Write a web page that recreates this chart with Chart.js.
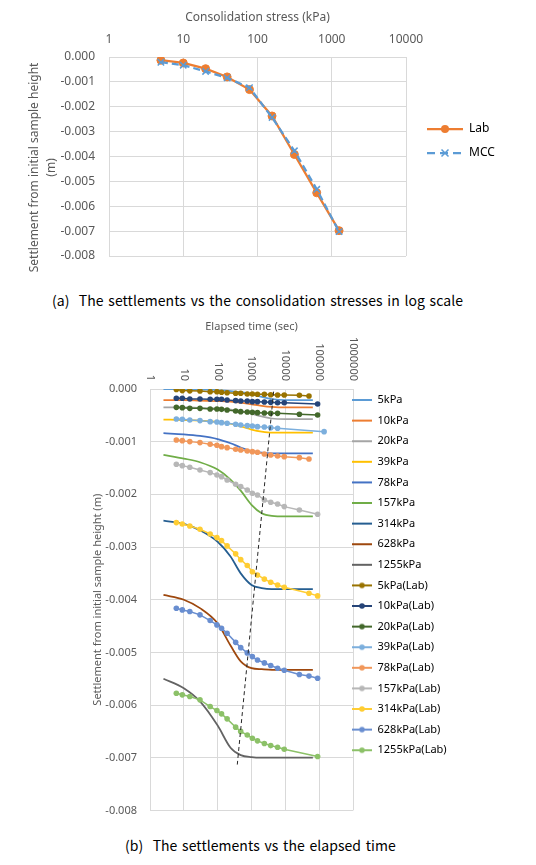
<!DOCTYPE html>
<html>
<head>
<meta charset="utf-8">
<script src="https://cdn.jsdelivr.net/npm/chart.js"></script>
<style>
  body { margin: 0; background: #fff; width: 536px; height: 865px; position: relative; overflow: hidden; }
  #boxA { position: absolute; left: 0; top: 0; width: 536px; height: 282px; }
  #boxB { position: absolute; left: 0; top: 310px; width: 536px; height: 520px; }
  .cap { position: absolute; font-family: "Noto Sans CJK KR", sans-serif; font-size: 14px; line-height: 20px; color: #000; white-space: pre; letter-spacing: 0.05px; word-spacing: 1.5px; }
  #capA { left: 52px; top: 290px; }
  #capB { left: 125px; top: 835px; }
</style>
</head>
<body>
<div id="boxA"><canvas id="chartA"></canvas></div>
<div class="cap" id="capA">(a)  The settlements vs the consolidation stresses in log scale</div>
<div id="boxB"><canvas id="chartB"></canvas></div>
<div class="cap" id="capB">(b)  The settlements vs the elapsed time</div>
<script>
// (a) settlement vs consolidation stress
var stressKpa = [5, 10, 20, 39, 78, 157, 314, 628, 1255];
var labSettle = [-0.00013, -0.00024, -0.00047, -0.00080, -0.00131, -0.00237, -0.00392, -0.00546, -0.00698];
var mccSettle = [-0.00021, -0.00033, -0.00058, -0.00084, -0.00123, -0.00243, -0.00377, -0.00532, -0.00702];
var stressTicks = [1, 10, 100, 1000, 10000];

// (b) settlement vs elapsed time
var timeTicks = [1, 10, 100, 1000, 10000, 100000, 1000000];
var modelNames = ['5kPa', '10kPa', '20kPa', '39kPa', '78kPa', '157kPa', '314kPa', '628kPa', '1255kPa'];
var modelColors = ['#5B9BD5', '#ED7D31', '#A5A5A5', '#FFC000', '#4472C4', '#70AD47', '#255E91', '#9E480E', '#636363'];
var modelTime = [2.5, 10, 30, 100, 240, 480, 1000, 2000, 4000, 10000, 65000];
var model5 = [0, 0, -0.00001, -0.00002, -0.00004, -0.00006, -0.00010, -0.00015, -0.00019, -0.00021, -0.00021];
var model10 = [-0.00021, -0.00021, -0.00022, -0.00023, -0.00024, -0.00026, -0.00029, -0.00032, -0.00034, -0.00035, -0.00035];
var model20 = [-0.00035, -0.00035, -0.00036, -0.00037, -0.00039, -0.00042, -0.00047, -0.00052, -0.00056, -0.00057, -0.00057];
var model39 = [-0.00058, -0.00059, -0.00060, -0.00062, -0.00066, -0.00071, -0.00077, -0.00081, -0.00083, -0.00083, -0.00083];
var model78 = [-0.00084, -0.00086, -0.00089, -0.00095, -0.00103, -0.00111, -0.00118, -0.00121, -0.00122, -0.00122, -0.00122];
var model157 = [-0.00125, -0.00132, -0.00139, -0.00153, -0.00172, -0.00193, -0.00220, -0.00236, -0.00241, -0.00242, -0.00242];
var model314 = [-0.00250, -0.00256, -0.00268, -0.00290, -0.00318, -0.00350, -0.00372, -0.00378, -0.00380, -0.00380, -0.00380];
var model628 = [-0.00391, -0.00400, -0.00416, -0.00445, -0.00487, -0.00517, -0.00530, -0.00532, -0.00533, -0.00533, -0.00533];
var model1255 = [-0.00550, -0.00568, -0.00593, -0.00639, -0.00681, -0.00695, -0.00699, -0.00700, -0.00700, -0.00700, -0.00700];

var labNames = ['5kPa(Lab)', '10kPa(Lab)', '20kPa(Lab)', '39kPa(Lab)', '78kPa(Lab)', '157kPa(Lab)', '314kPa(Lab)', '628kPa(Lab)', '1255kPa(Lab)'];
var labColors = ['#997300', '#264478', '#43682B', '#7CAFDD', '#F1975A', '#B7B7B7', '#FFCD33', '#698ED0', '#8CC168'];
var labTime = [6, 9, 15, 30, 60, 95, 130, 190, 340, 480, 750, 1060, 1500, 2400, 3700, 5900, 9300, 26000, 50000, 90000, 140000];
var lab5 = [-0.00001, -0.00003, -0.000035, -0.000038, -0.00005, -0.00005, -0.000063, -0.00007, -0.000082, -0.000082, -0.000095, -0.000095, -0.0001, -0.0001, -0.000108, -0.000114, -0.000114, -0.00012, -0.000133, null, null];
var lab10 = [-0.000177, -0.000177, -0.00019, -0.00019, -0.000196, -0.000196, -0.000196, -0.000209, -0.000221, -0.000228, -0.000228, -0.00024, -0.00024, -0.000247, -0.000253, -0.00026, -0.00026, null, null, -0.000285, null];
var lab20 = [-0.000348, -0.000354, -0.000367, -0.000367, -0.00038, -0.00038, -0.000386, -0.0004, -0.000417, -0.00043, -0.000436, -0.000443, -0.000449, -0.000455, -0.000462, -0.000462, null, -0.00048, null, -0.000493, null];
var lab39 = [-0.000569, -0.000575, -0.000588, -0.0006, -0.00062, -0.000626, -0.000639, -0.000651, -0.00067, -0.000683, -0.000696, -0.000702, -0.000715, -0.000721, -0.000734, -0.000746, null, null, null, null, -0.00081];
var lab78 = [-0.000968, -0.000981, -0.000999, -0.001018, -0.00105, -0.001069, -0.001094, -0.001113, -0.001145, -0.001157, -0.001176, -0.001189, -0.001202, -0.001233, -0.001252, -0.001271, -0.001284, -0.001303, -0.001328, null, null];
var lab157 = [-0.001429, -0.001455, -0.001486, -0.001537, -0.001587, -0.001632, -0.001664, -0.001727, -0.001809, -0.001853, -0.001916, -0.00198, -0.002011, -0.002106, -0.002151, -0.002182, -0.002233, -0.002296, null, -0.002378, null];
var lab314 = [-0.002536, -0.002562, -0.0026, -0.002663, -0.002752, -0.002821, -0.002878, -0.002979, -0.00313, -0.00324, -0.00335, -0.00347, -0.00353, -0.00361, -0.00367, -0.00372, -0.003765, null, -0.003877, -0.003928, null];
var lab628 = [-0.004162, -0.004194, -0.004225, -0.004288, -0.004396, -0.004478, -0.004541, -0.004636, -0.00481, -0.00491, -0.00501, -0.00508, -0.005145, -0.0052, -0.00525, -0.0053, -0.00534, -0.00542, -0.00545, -0.00549, null];
var lab1255 = [-0.005775, -0.005806, -0.005838, -0.005901, -0.006028, -0.006104, -0.006167, -0.006262, -0.00642, -0.0065, -0.00657, -0.00663, -0.00668, -0.00673, -0.00677, -0.0068, -0.00684, null, null, -0.006977, null];

// dashed guide line across the curves
var guideTime = [4500, 380];
var guideSettle = [-0.00005, -0.00713];

var modelSettle = [model5, model10, model20, model39, model78, model157, model314, model628, model1255];
var labSettleT = [lab5, lab10, lab20, lab39, lab78, lab157, lab314, lab628, lab1255];

Chart.defaults.font.family = '"Noto Sans", sans-serif';
Chart.defaults.color = '#595959';

function pts(xs, ys) {
    var out = [];
    for (var i = 0; i < xs.length; i++) {
        if (ys[i] !== null) out.push({x: xs[i], y: ys[i]});
    }
    return out;
}

// small legend icons: line with optional marker
function icon(w, h, color, lw, dash, marker, r) {
    var c = document.createElement('canvas');
    c.width = w; c.height = h;
    var g = c.getContext('2d');
    g.strokeStyle = color;
    g.fillStyle = color;
    g.lineWidth = lw;
    g.setLineDash(dash);
    g.beginPath();
    g.moveTo(0, h / 2);
    g.lineTo(w, h / 2);
    g.stroke();
    g.setLineDash([]);
    if (marker === 'circle') {
        g.beginPath();
        g.arc(w / 2, h / 2, r, 0, Math.PI * 2);
        g.fill();
    } else if (marker === 'x') {
        g.lineWidth = 1.5;
        g.beginPath();
        g.moveTo(w / 2 - r, h / 2 - r); g.lineTo(w / 2 + r, h / 2 + r);
        g.moveTo(w / 2 + r, h / 2 - r); g.lineTo(w / 2 - r, h / 2 + r);
        g.stroke();
    }
    return c;
}

// legend has a fixed width for layout; move it and let its text run to the canvas edge
var shiftLegend = {
    id: 'shiftLegend',
    afterLayout: function(chart, args, opts) {
        var lg = chart.legend;
        lg.left += opts.dx;
        lg.top += opts.dy;
        lg.bottom += opts.dy;
        lg.right = chart.width;
        lg.width = lg.right - lg.left;
    }
};

var timeLabels = {
    id: 'timeLabels',
    afterDraw: function(chart) {
        var sx = chart.scales.x;
        var ctx = chart.ctx;
        ctx.save();
        ctx.font = '11px "Noto Sans"';
        ctx.fillStyle = '#595959';
        ctx.textAlign = 'right';
        ctx.textBaseline = 'middle';
        timeTicks.forEach(function(v) {
            ctx.save();
            ctx.translate(sx.getPixelForValue(v), chart.chartArea.top - 8);
            ctx.rotate(Math.PI / 2);
            ctx.fillText(String(v), 0, 0);
            ctx.restore();
        });
        ctx.restore();
    }
};

var gridColor = '#D9D9D9';

// ---------- chart (a) ----------
var iconsA = [
    icon(36, 12, '#ED7D31', 2.25, [], 'circle', 4),
    icon(36, 12, '#5B9BD5', 2.25, [8, 5], 'x', 3.5)
];

new Chart(document.getElementById('chartA'), {
    type: 'line',
    data: {
        datasets: [{
            label: 'Lab',
            data: pts(stressKpa, labSettle),
            borderColor: '#ED7D31',
            backgroundColor: '#ED7D31',
            borderWidth: 2.25,
            pointRadius: 4,
            pointBorderWidth: 1,
            order: 1
        }, {
            label: 'MCC',
            data: pts(stressKpa, mccSettle),
            borderColor: '#5B9BD5',
            backgroundColor: '#5B9BD5',
            borderDash: [7, 4],
            borderWidth: 2.25,
            pointStyle: 'crossRot',
            pointRadius: 4.5,
            pointBorderWidth: 1.5,
            order: 0
        }]
    },
    options: {
        responsive: true,
        maintainAspectRatio: false,
        animation: false,
        events: [],
        layout: { padding: { left: 22, right: 70, top: 0, bottom: 26 } },
        plugins: {
            tooltip: { enabled: false },
            shiftLegend: { dx: 9, dy: 13 },
            legend: {
                position: 'right',
                maxWidth: 60,
                labels: {
                    usePointStyle: true,
                    pointStyleWidth: 36,
                    padding: 12,
                    font: { size: 12 },
                    color: '#595959',
                    generateLabels: function(chart) {
                        return chart.data.datasets.map(function(ds, i) {
                            return { text: ds.label, pointStyle: iconsA[i], rotation: 0, datasetIndex: i, hidden: false, lineWidth: 0 };
                        });
                    }
                }
            }
        },
        scales: {
            x: {
                type: 'logarithmic',
                position: 'top',
                min: 1,
                max: 10000,
                afterBuildTicks: function(s) {
                    s.ticks = stressTicks.map(function(v) { return {value: v, major: true}; });
                },
                afterFit: function(s) { s.height = 57; },
                ticks: {
                    autoSkip: false,
                    maxRotation: 0,
                    padding: 10,
                    font: { size: 12 },
                    callback: function(v) { return String(v); }
                },
                grid: { color: gridColor, drawTicks: false },
                border: { color: gridColor },
                title: {
                    display: true,
                    text: 'Consolidation stress (kPa)',
                    font: { size: 12 },
                    padding: { top: 10, bottom: 0 }
                }
            },
            y: {
                min: -0.008,
                max: 0,
                afterFit: function(s) { s.width = 87; },
                ticks: {
                    stepSize: 0.001,
                    padding: 14,
                    font: { size: 12 },
                    callback: function(v) { return v.toFixed(3); }
                },
                grid: { color: gridColor, drawTicks: false },
                border: { color: gridColor },
                title: {
                    display: true,
                    // trailing spaces push the title a little below the axis centre, as in the source
                    text: ['Settlement from initial sample height       ', '(m)       '],
                    font: { size: 12, lineHeight: 1.4 },
                    padding: { top: 4, bottom: 0 }
                }
            }
        }
    },
    plugins: [shiftLegend]
});

// ---------- chart (b) ----------
var dsB = [];
var iconsB = [];
modelNames.forEach(function(name, i) {
    dsB.push({
        label: name,
        data: pts(modelTime, modelSettle[i]),
        borderColor: modelColors[i],
        backgroundColor: modelColors[i],
        borderWidth: 1.75,
        pointRadius: 0,
        cubicInterpolationMode: 'monotone',
        order: 2
    });
    iconsB.push(icon(20, 10, modelColors[i], 2, [], null, 0));
});
labNames.forEach(function(name, i) {
    dsB.push({
        label: name,
        data: pts(labTime, labSettleT[i]),
        borderColor: labColors[i],
        backgroundColor: labColors[i],
        borderWidth: 1.5,
        pointRadius: 2.8,
        pointBorderWidth: 0,
        order: 1
    });
    iconsB.push(icon(20, 10, labColors[i], 2, [], 'circle', 2.8));
});
dsB.push({
    label: 'guide',
    data: pts(guideTime, guideSettle),
    borderColor: '#262626',
    borderWidth: 1,
    borderDash: [4, 3],
    pointRadius: 0,
    order: 0
});

new Chart(document.getElementById('chartB'), {
    type: 'line',
    data: { datasets: dsB },
    options: {
        responsive: true,
        maintainAspectRatio: false,
        animation: false,
        events: [],
        layout: { padding: { left: 88, right: 103, top: 0, bottom: 19 } },
        plugins: {
            tooltip: { enabled: false },
            shiftLegend: { dx: -10.6, dy: 14.6 },
            legend: {
                position: 'right',
                maxWidth: 80,
                labels: {
                    usePointStyle: true,
                    pointStyleWidth: 20,
                    padding: 9.6,
                    font: { size: 11 },
                    color: '#595959',
                    generateLabels: function(chart) {
                        var items = [];
                        chart.data.datasets.forEach(function(ds, i) {
                            if (ds.label === 'guide') return;
                            items.push({ text: ds.label, pointStyle: iconsB[i], rotation: 0, datasetIndex: i, hidden: false, lineWidth: 0 });
                        });
                        return items;
                    }
                }
            }
        },
        scales: {
            x: {
                type: 'logarithmic',
                position: 'top',
                min: 1,
                max: 1000000,
                afterBuildTicks: function(s) {
                    s.ticks = timeTicks.map(function(v) { return {value: v, major: true}; });
                },
                afterFit: function(s) { s.height = 79; },
                ticks: { display: false },
                grid: { color: gridColor, drawTicks: false },
                border: { color: gridColor },
                title: {
                    display: true,
                    text: 'Elapsed time (sec)',
                    font: { size: 11 },
                    padding: { top: 10.4, bottom: 0 }
                }
            },
            y: {
                min: -0.008,
                max: 0,
                afterFit: function(s) { s.width = 62; },
                ticks: {
                    stepSize: 0.001,
                    padding: 13,
                    font: { size: 11 },
                    callback: function(v) { return v.toFixed(3); }
                },
                grid: { color: gridColor, drawTicks: false },
                border: { color: gridColor },
                title: {
                    display: true,
                    text: 'Settlement from initial sample height (m)',
                    font: { size: 11 },
                    padding: { top: 3.4, bottom: 0 }
                }
            }
        }
    },
    plugins: [shiftLegend, timeLabels]
});
</script>
</body>
</html>
